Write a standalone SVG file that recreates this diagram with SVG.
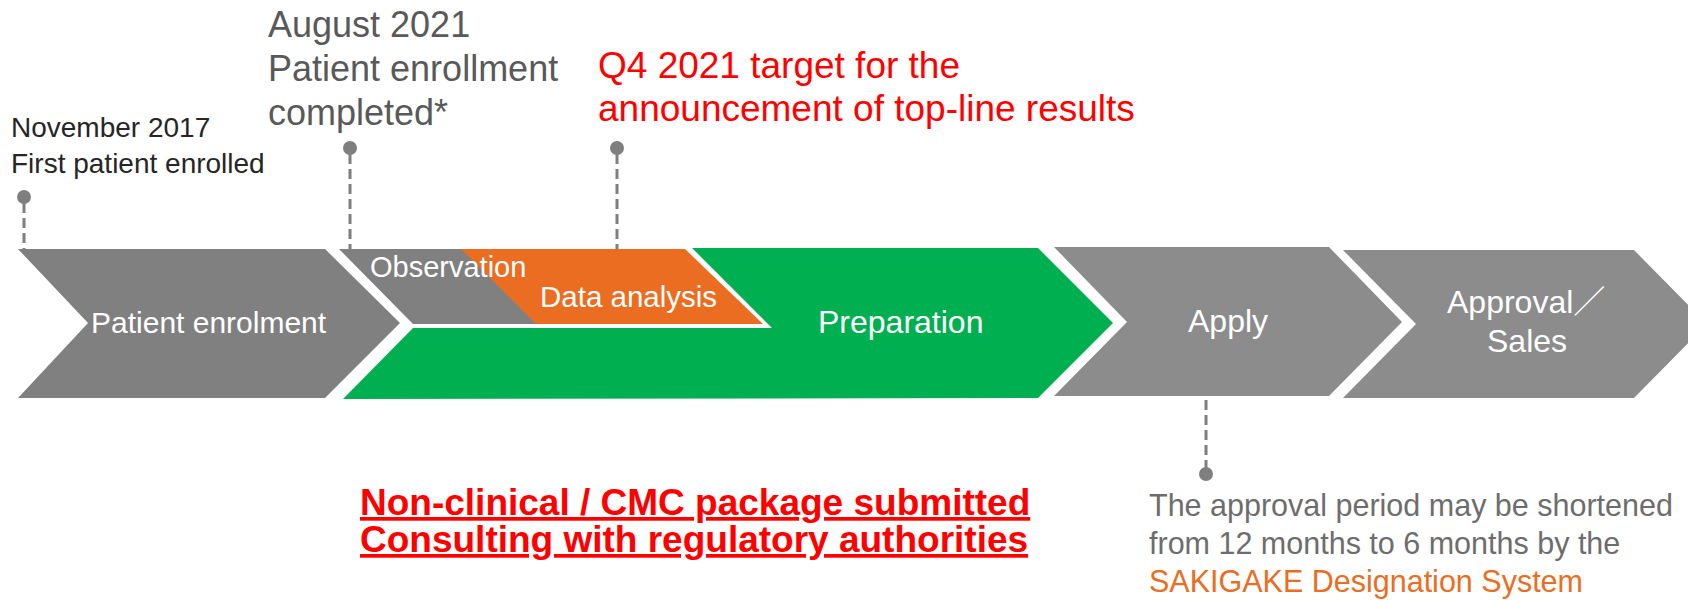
<svg xmlns="http://www.w3.org/2000/svg" width="1688" height="600" viewBox="0 0 1688 600">
<style>
.lbl{font-family:"Liberation Sans","Noto Sans CJK JP",sans-serif;fill:#fff}
.note{font-family:"Liberation Sans",Arial,sans-serif}
.lead{stroke:#7f7f7f;stroke-width:3;stroke-dasharray:10 5;fill:none}
.dot{fill:#7f7f7f}
.g1{fill:#808080}
.g2{fill:#8c8c8c}
</style>
<rect width="1688" height="600" fill="#fff"/>
<g id="patient-enrolment">
<polygon class="g1" points="18,249 325,249 400,323 325,398 18,398 88,323"/>
<text class="lbl" x="91" y="333" font-size="30">Patient enrolment</text>
</g>
<g id="preparation">
<polygon fill="#00b050" points="343,399 413,328 772,328 692,248 1038,248 1113,323 1038,398"/>
<text class="lbl" x="818" y="333" font-size="32">Preparation</text>
</g>
<g id="data-analysis">
<polygon fill="#ea6d22" points="460,249 685,249 763,324 535,324"/>
<text class="lbl" x="540" y="307" font-size="29.5">Data analysis</text>
</g>
<g id="observation">
<polygon class="g1" points="339,249 461,249 536,324 413,324"/>
<text class="lbl" x="370" y="277" font-size="29">Observation</text>
</g>
<g id="apply">
<polygon class="g2" points="1054,247 1329,247 1402,322 1329,396 1054,396 1127,322"/>
<text class="lbl" x="1188" y="332" font-size="32">Apply</text>
</g>
<g id="approval-sales">
<polygon class="g2" points="1343,250 1634,250 1707,324 1634,398 1343,398 1416,324"/>
<text class="lbl" x="1447" y="313" font-size="32">Approval／</text>
<text class="lbl" x="1487" y="352" font-size="32">Sales</text>
</g>
<g id="connectors">
<line class="lead" x1="24" y1="203" x2="24" y2="249"/>
<circle class="dot" cx="24" cy="197" r="7"/>
<line class="lead" x1="350" y1="154" x2="350" y2="249"/>
<circle class="dot" cx="350" cy="148" r="7"/>
<line class="lead" x1="617" y1="154" x2="617" y2="249"/>
<circle class="dot" cx="617" cy="148" r="7"/>
<line class="lead" x1="1206" y1="400" x2="1206" y2="468"/>
<circle class="dot" cx="1206" cy="474" r="7"/>
</g>
<g id="note-nov2017" class="note" font-size="28" fill="#262626">
<text x="11" y="137">November 2017</text>
<text x="11" y="173">First patient enrolled</text>
</g>
<g id="note-aug2021" class="note" font-size="36" fill="#595959">
<text x="268" y="37">August 2021</text>
<text x="268" y="81">Patient enrollment</text>
<text x="268" y="125">completed*</text>
</g>
<g id="note-q4" class="note" font-size="37" fill="#ff0000">
<text x="598" y="78">Q4 2021 target for the</text>
<text x="598" y="121">announcement of top-line results</text>
</g>
<g id="note-regulatory" class="note" font-size="37" font-weight="bold" fill="#ff0000" text-decoration="underline">
<text x="360" y="515">Non-clinical / CMC package submitted</text>
<text x="360" y="552">Consulting with regulatory authorities</text>
</g>
<g id="note-sakigake" class="note" font-size="30.5" fill="#6d6d6d">
<text x="1149" y="516">The approval period may be shortened</text>
<text x="1149" y="554">from 12 months to 6 months by the</text>
<text x="1149" y="592" fill="#ea6d22">SAKIGAKE Designation System</text>
</g>
</svg>
